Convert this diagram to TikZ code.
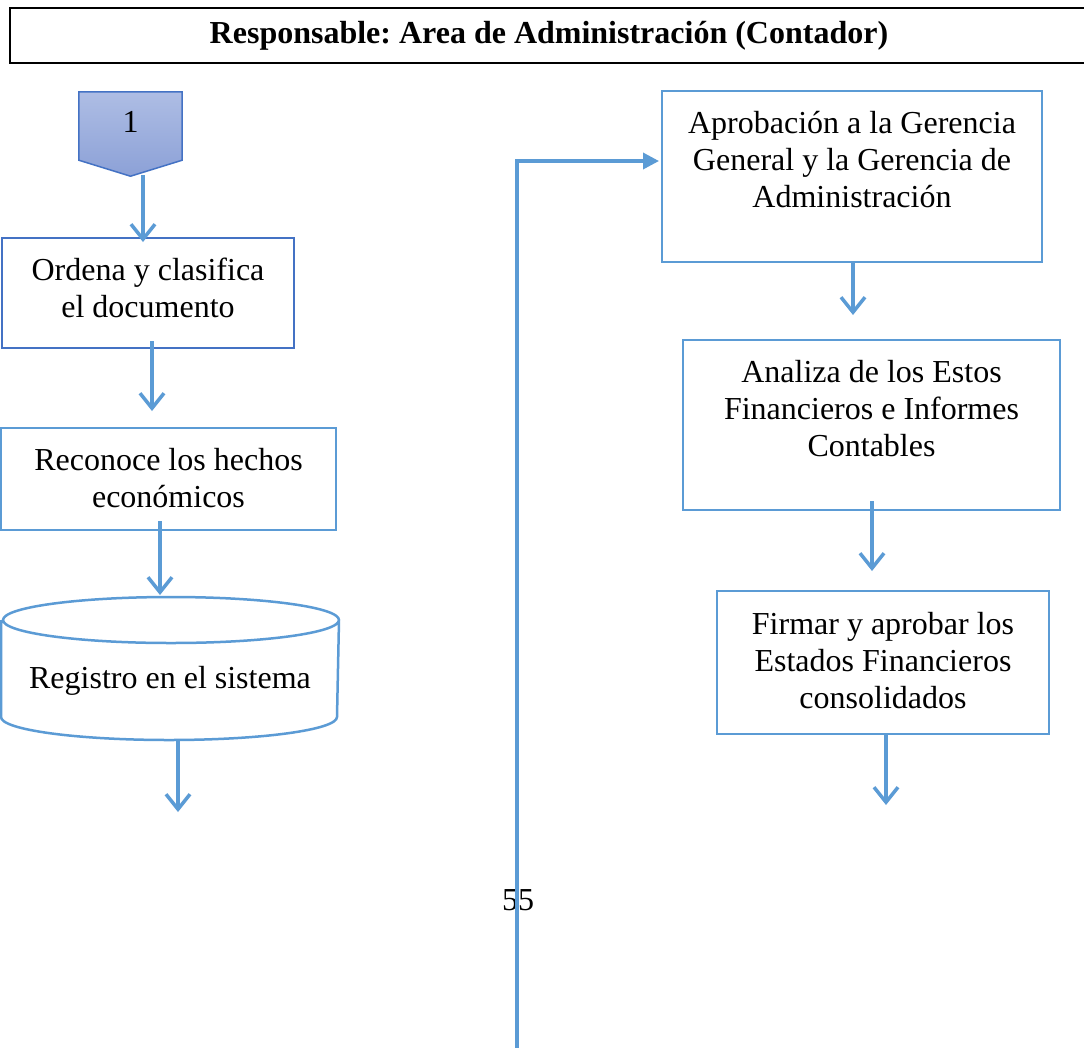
\documentclass[tikz,border=0pt]{standalone}
\usepackage{fontspec}
\setmainfont{Liberation Serif}
\usetikzlibrary{arrows.meta, calc}

\definecolor{azul}{HTML}{5B9BD5}
\definecolor{azulosc}{HTML}{4472C4}
\definecolor{lila1}{HTML}{AEBDE4}
\definecolor{lila2}{HTML}{8CA1D7}

\frenchspacing
\begin{document}
\begin{tikzpicture}[x=1pt, y=-1pt,
    proc/.style = {draw=azul, line width=2pt, inner sep=0pt, align=center, font=\fontsize{32}{36.8}\selectfont},
    flow/.style = {draw=azul, line width=3.5pt, -{Straight Barb[length=15pt, width=24pt]}},
    back/.style = {draw=azul, line width=3.5pt, -{Triangle[length=16pt, width=16pt]}}]
      \useasboundingbox (0,0) rectangle (1084,1047);
      \fill [white] (0,0) rectangle (1084,1047);

      % title
      \node [draw=black, line width=2pt, inner sep=0pt, minimum width=1078pt, text height=35pt, text depth=20pt,
             font=\fontsize{32}{36.8}\selectfont\bfseries] (titulo) at (549, 35.5) {Responsable: Area de Administraci\'on (Contador)};

      % left column
      \node [inner sep=0pt, minimum width=103pt, minimum height=68pt] (pent) at (130.5, 126) {};
      \draw [draw=azulosc, line width=1.5pt, top color=lila1, bottom color=lila2]
            (pent.north west) -- (pent.north east) -- (pent.south east) -- ([yshift=-16pt]pent.south) -- (pent.south west) -- cycle;
      \node [font=\fontsize{32}{36.8}\selectfont] (uno) at (130.5, 122) {1};

      \node [proc, draw=azulosc, minimum width=292pt, text height=79pt, text depth=31pt] (ordena) at (148, 293)
            {Ordena y clasifica\\el documento};
      \node [proc, minimum width=335pt, text height=79pt, text depth=23pt] (reconoce) at (168.5, 479)
            {Reconoce los hechos\\econ\'omicos};
      \node [proc, draw=none, minimum width=336pt, text height=90pt, text depth=51pt] (reg) at (170, 668.5)
            {Registro en el sistema};
      \draw [azul, line width=2.5pt] ([yshift=-23pt]reg.north west) -- ([yshift=23pt]reg.south west)
            arc [start angle=180, end angle=360, x radius=168pt, y radius=23pt] -- ([yshift=-23pt]reg.north east)
            arc [start angle=0, end angle=360, x radius=168pt, y radius=23pt];
      \coordinate (regout) at (178, 812);

      % right column
      \node [proc, minimum width=380pt, text height=116pt, text depth=55pt] (apro) at (852, 176.5)
            {Aprobaci\'on a la Gerencia\\General y la Gerencia de\\Administraci\'on};
      \node [proc, minimum width=377pt, text height=116pt, text depth=54pt] (analiza) at (871.5, 425)
            {Analiza de los Estos\\Financieros e Informes\\Contables};
      \node [proc, minimum width=332pt, text height=117pt, text depth=26pt] (firmar) at (883, 662.5)
            {Firmar y aprobar los\\Estados Financieros\\consolidados};
      \coordinate (firmout) at (886, 805);

      \node [font=\fontsize{32}{36.8}\selectfont] (pagina) at (518, 900) {55};
      \coordinate (retorno) at (517, 1050);

      % connectors
      \draw [flow] ([xshift=12.5pt, yshift=-15pt]pent.south) -- ([xshift=-5pt, yshift=-5pt]ordena.north);
      \draw [flow] ([xshift=4pt, yshift=8pt]ordena.south) -- ([xshift=-16.5pt, yshift=16pt]reconoce.north);
      \draw [flow] ([xshift=-8.5pt, yshift=10pt]reconoce.south) -- ([xshift=-10pt, yshift=2pt]reg.north);
      \draw [flow] ([xshift=8pt]reg.south) -- (regout);
      \draw [flow] ([xshift=1pt]apro.south) -- ([xshift=-18.5pt, yshift=24pt]analiza.north);
      \draw [flow] ([xshift=0.5pt, yshift=10pt]analiza.south) -- ([xshift=-11pt, yshift=19pt]firmar.north);
      \draw [flow] ([xshift=3pt]firmar.south) -- (firmout);
      \draw [back] (retorno) |- ([xshift=-2pt, yshift=15.5pt]apro.west);
\end{tikzpicture}
\end{document}
